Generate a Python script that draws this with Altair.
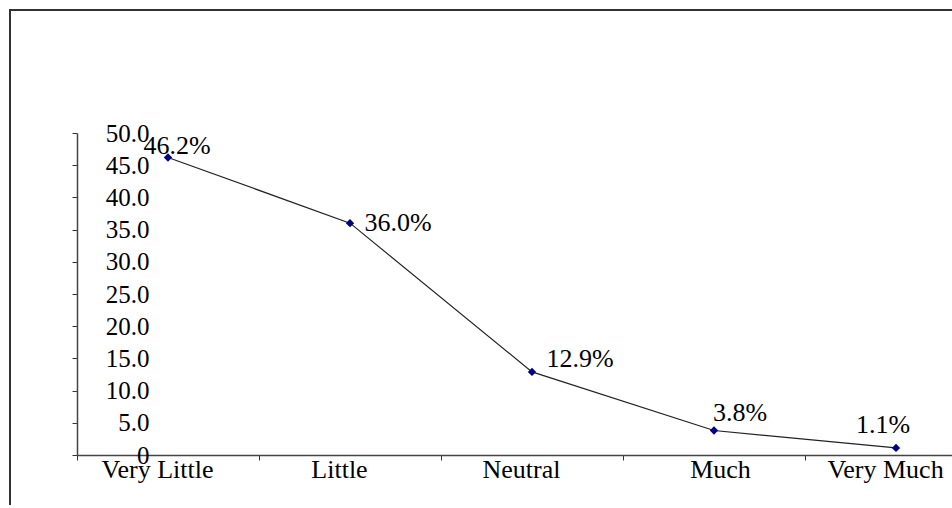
import altair as alt
import pandas as pd

# Response levels and the share of respondents choosing each (percent)
categories = ["Very Little", "Little", "Neutral", "Much", "Very Much"]
shares = [46.2, 36.0, 12.9, 3.8, 1.1]

# Hand-placed nudges (dx, dy in px) for each value label
label_nudge = [(9, -11), (48, 0), (48, -13), (26, -18), (-13, -23)]

df = pd.DataFrame({"level": categories, "share": shares})
df["label"] = [f"{v:.1f}%" for v in shares]

FONT = "Liberation Serif"
BAND = 182
PLOT_W = 875
PLOT_H = 322

x_enc = alt.X(
    "level:N",
    sort=categories,
    scale=alt.Scale(range=[0, BAND * len(categories)], paddingInner=0, paddingOuter=0),
    axis=alt.Axis(
        title=None,
        labelAngle=0,
        tickBand="extent",
        tickSize=5,
        tickColor="#333",
        domainColor="#444",
        domainWidth=1.5,
        labelFont=FONT,
        labelFontSize=26,
        labelColor="#000",
        labelBaseline="top",
        labelPadding=-4,
        labelOffset={"condition": {"test": "datum.value == 'Much'", "value": 6}, "value": -11},
        grid=False,
    ),
)
y_enc = alt.Y(
    "share:Q",
    scale=alt.Scale(domain=[0, 50], nice=False, zero=True),
    axis=alt.Axis(
        title=None,
        values=list(range(0, 51, 5)),
        labelExpr="datum.value == 0 ? '0' : format(datum.value, '.1f')",
        tickSize=5,
        tickColor="#333",
        domainColor="#444",
        domainWidth=1.5,
        labelFont=FONT,
        labelFontSize=25,
        labelColor="#000",
        labelAlign="right",
        labelBaseline="middle",
        labelPadding=-77,
        grid=False,
    ),
)

base = alt.Chart(df)

line = base.mark_line(color="#222", strokeWidth=1.2).encode(x=x_enc, y=y_enc)
points = base.mark_point(
    shape="diamond", filled=True, color="#000080", size=70, opacity=1
).encode(x=x_enc, y=y_enc)

labels = []
for cat, (dx, dy) in zip(categories, label_nudge):
    labels.append(
        base.transform_filter(alt.datum.level == cat)
        .mark_text(
            font=FONT, fontSize=26, color="#000", align="center",
            baseline="middle", dx=dx, dy=dy,
        )
        .encode(x=x_enc, y=y_enc, text="label:N")
    )

# Outer frame around the whole figure
frame = base.mark_rect(
    fill=None, stroke="#333", strokeWidth=1.5, clip=False
).encode(
    x=alt.value(-67), x2=alt.value(PLOT_W + 200),
    y=alt.value(-123), y2=alt.value(PLOT_H + 200),
)

chart = (
    alt.layer(frame, line, points, *labels)
    .properties(
        width=PLOT_W,
        height=PLOT_H,
        autosize=alt.AutoSizeParams(type="none"),
        padding={"left": 77, "top": 133, "right": 0, "bottom": 50},
        background="white",
    )
    .configure_view(stroke=None)
)

chart.save("out.html", embed_options={"renderer": "svg", "actions": False})
